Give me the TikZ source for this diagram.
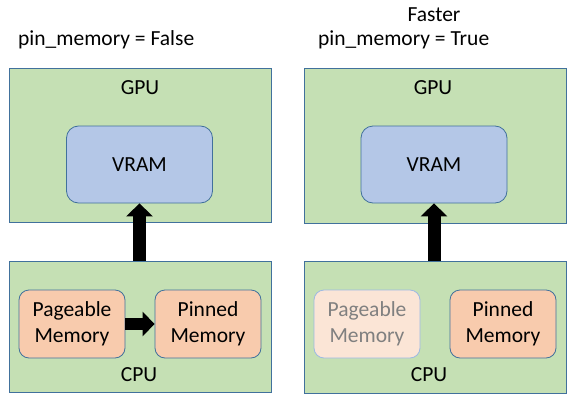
\documentclass[tikz,border=0pt]{standalone}
\usepackage{fontspec}
\setmainfont{Carlito}
\usetikzlibrary{arrows.meta}
\definecolor{boxgreen}{HTML}{C5E0B4}
\definecolor{boxblue}{HTML}{B4C7E7}
\definecolor{boxorange}{HTML}{F8CBAD}
\definecolor{boxpale}{HTML}{FBE5D6}
\definecolor{edgeblue}{HTML}{41719C}
\definecolor{edgepale}{HTML}{9DB9E3}
\begin{document}
\begin{tikzpicture} [x=1pt,y=-1pt,
  every node/.style={font=\fontsize{21.5}{26}\selectfont},
  unit/.style={draw=edgeblue,fill=boxgreen,line width=0.8pt,minimum width=262pt},
  vram/.style={draw=edgeblue,fill=boxblue,line width=0.8pt,rounded corners=12pt,minimum width=146pt,minimum height=77pt},
  mem/.style={draw=edgeblue,fill=boxorange,line width=0.8pt,rounded corners=10pt,minimum width=106pt,minimum height=68pt,align=center,inner sep=0pt},
  faded/.style={mem,draw=edgepale,fill=boxpale,text=black!50},
  blockarrow/.style={line width=#1,-{Triangle[width=2*#1,length=#1]}}]
\useasboundingbox (0,0) rectangle (582,407);
% left: pin_memory = False
\node [anchor=west,inner sep=0pt] (titleL) at (18,40) {pin\_memory = False};
\node [unit,minimum height=154pt] (gpuL) at (140,145) {};
\node (gpuLabelL) at (140,88) {GPU};
\node [vram] (vramL) at (139.5,164.5) {VRAM};
\node [unit,minimum height=131pt] (cpuL) at (140,326.5) {};
\node (cpuLabelL) at (139,375) {CPU};
\node [mem] (pageL) at (72,324) {Pageable\\Memory};
\node [mem] (pinL) at (208,324) {Pinned\\Memory};
\draw [blockarrow=13pt] (cpuL.north -| vramL.south) -- (vramL.south);
\draw [blockarrow=12pt] (pageL.east) -- (pinL.west);
% right: pin_memory = True
\node (faster) at (434,15) {Faster};
\node [anchor=west,inner sep=0pt] (titleR) at (318,40) {pin\_memory = True};
\node [unit,minimum height=155pt] (gpuR) at (435,145.5) {};
\node (gpuLabelR) at (433,88) {GPU};
\node [vram] (vramR) at (434,164.5) {VRAM};
\node [unit,minimum height=132pt] (cpuR) at (435,327) {};
\node (cpuLabelR) at (429,375) {CPU};
\node [faded] (pageR) at (367,324) {Pageable\\Memory};
\node [mem] (pinR) at (503,324) {Pinned\\Memory};
\draw [blockarrow=13pt] (cpuR.north -| vramR.south) -- (vramR.south);
\end{tikzpicture}
\end{document}
